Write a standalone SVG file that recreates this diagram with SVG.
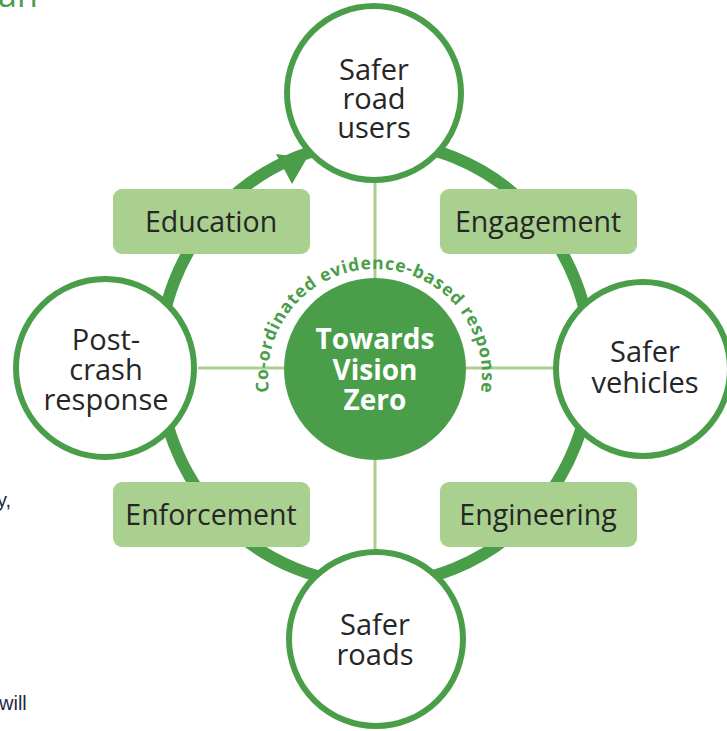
<svg xmlns="http://www.w3.org/2000/svg" width="727" height="731" viewBox="0 0 727 731">
<style>
.ring{fill:none;stroke:#4a9e4a;stroke-width:12}
.cross{stroke:#a9d08e;stroke-width:3}
.node{fill:#ffffff;stroke:#4a9e4a;stroke-width:6}
.box{fill:#a9d08e}
.nt{font-family:"Open Sans","Noto Sans",sans-serif;font-size:29px;fill:#262626;text-anchor:middle}
.bt{font-family:"Open Sans","Noto Sans",sans-serif;font-size:28.5px;fill:#262626;text-anchor:middle}
.ct{font-family:"Open Sans","Noto Sans",sans-serif;font-size:28px;font-weight:bold;fill:#ffffff;text-anchor:middle}
.arc{font-family:"Open Sans","Noto Sans",sans-serif;font-size:17.5px;font-weight:bold;fill:#4a9e4a}
.side{font-family:"Liberation Sans",sans-serif;font-size:20px;fill:#1f2a44}
</style>
<defs>
<path id="arcpath" d="M 269.2,392 A 107 107 0 1 1 480.8,392"/>
</defs>
<rect width="727" height="731" fill="#ffffff"/>
<text x="-2" y="7" font-family="Open Sans, sans-serif" font-size="34" fill="#4a9e4a">an</text>
<text class="side" x="-3" y="507">y,</text>
<text class="side" x="-1" y="710">will</text>
<g id="connectors">
<ellipse class="ring" cx="375" cy="363" rx="216" ry="221"/>
<polygon points="276,154 307,158 292,184" fill="#4a9e4a"/>
<line class="cross" x1="198" y1="368" x2="555" y2="368"/>
<line class="cross" x1="375" y1="178" x2="375" y2="550"/>
</g>
<g id="center">
<circle cx="375" cy="369" r="91" fill="#4a9e4a"/>
<text class="ct" x="375" y="349">Towards</text>
<text class="ct" x="375" y="380">Vision</text>
<text class="ct" x="375" y="410">Zero</text>
<text class="arc"><textPath href="#arcpath" textLength="368" lengthAdjust="spacing">Co-ordinated  evidence-based  response</textPath></text>
</g>
<g id="node-users">
<circle class="node" cx="374" cy="93" r="87"/>
<text class="nt" x="374" y="80">Safer</text>
<text class="nt" x="374" y="109">road</text>
<text class="nt" x="374" y="138">users</text>
</g>
<g id="node-vehicles">
<circle class="node" cx="643" cy="369" r="87"/>
<text class="nt" x="645" y="362">Safer</text>
<text class="nt" x="645" y="393">vehicles</text>
</g>
<g id="node-roads">
<circle class="node" cx="376" cy="639" r="87"/>
<text class="nt" x="375" y="635">Safer</text>
<text class="nt" x="375" y="665">roads</text>
</g>
<g id="node-postcrash">
<circle class="node" cx="105" cy="368" r="89"/>
<text class="nt" x="106" y="350">Post-</text>
<text class="nt" x="106" y="380">crash</text>
<text class="nt" x="106" y="410">response</text>
</g>
<g id="box-education">
<rect class="box" x="113" y="189" width="197" height="65" rx="9"/>
<text class="bt" x="211" y="232">Education</text>
</g>
<g id="box-engagement">
<rect class="box" x="440" y="189" width="197" height="65" rx="9"/>
<text class="bt" x="538" y="232">Engagement</text>
</g>
<g id="box-enforcement">
<rect class="box" x="113" y="482" width="197" height="65" rx="9"/>
<text class="bt" x="211" y="525">Enforcement</text>
</g>
<g id="box-engineering">
<rect class="box" x="440" y="482" width="197" height="65" rx="9"/>
<text class="bt" x="538" y="525">Engineering</text>
</g>
</svg>
